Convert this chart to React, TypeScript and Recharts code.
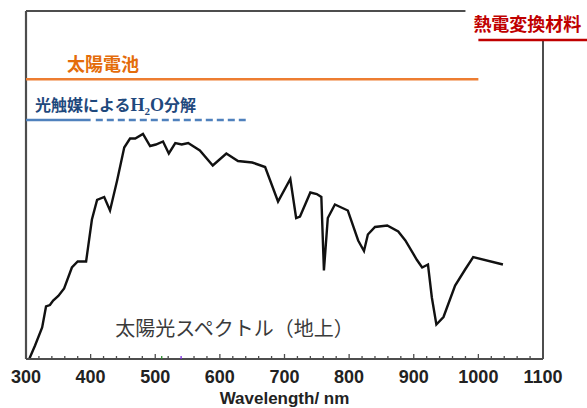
import React from "react";
import {
  LineChart,
  Line,
  XAxis,
  YAxis,
  ReferenceLine,
  ReferenceDot,
} from "recharts";

// Solar spectrum (ground level), relative irradiance
const wavelength = [
  305, 314, 325, 331, 337, 342, 350, 359, 371, 380, 393, 402, 410, 421, 430,
  441, 452, 461, 469, 481, 492, 501, 512, 521, 531, 541, 551, 569, 589, 610,
  628, 650, 670, 690, 709, 718, 724, 740, 750, 757, 761, 767, 778, 798, 814,
  823, 829, 840, 859, 876, 887, 905, 913, 922, 928, 935, 946, 964, 980, 992,
  1038,
];
const irradiance = [
  0.0, 0.09, 0.21, 0.35, 0.36, 0.39, 0.42, 0.47, 0.61, 0.65, 0.65, 0.93, 1.06,
  1.08, 0.99, 1.19, 1.41, 1.47, 1.47, 1.5, 1.42, 1.43, 1.45, 1.37, 1.44, 1.43,
  1.44, 1.39, 1.29, 1.37, 1.32, 1.31, 1.28, 1.05, 1.2, 0.94, 0.95, 1.11, 1.1,
  1.08, 0.59, 0.94, 1.03, 0.99, 0.79, 0.72, 0.83, 0.88, 0.89, 0.85, 0.79, 0.66,
  0.61, 0.63, 0.41, 0.23, 0.28, 0.49, 0.6, 0.68, 0.63,
];

// Axis
const xDomain = [300, 1100];
const yDomain = [0, 2.32];
const majorTicks = [300, 400, 500, 600, 700, 800, 900, 1000, 1100];
const minorTicks = [
  320, 340, 360, 380, 420, 440, 460, 480, 510, 520, 540, 560, 580, 620, 640,
  660, 680, 720, 740, 760, 780, 820, 840, 860, 880, 920, 940, 960, 980, 1020,
  1040, 1060, 1080,
];
const axisTitle = "Wavelength/ nm";
const curveLabel = "太陽光スペクトル（地上）";

// Application ranges (nm) and their label heights (relative units)
const solarCellRange = [300, 1000];
const solarCellLevel = 1.865;
const solarCellLabel = "太陽電池";
const photoSolidRange = [300, 400];
const photoDashedRange = [408, 640];
const photoLevel = 1.593;
const photoLabelPre = "光触媒による";
const photoLabelPost = "分解";
const thermoRange = [1000, 1170];
const thermoLevel = 2.127;
const thermoLabel = "熱電変換材料";
const frameTopEnd = 980;

const data = wavelength.map((w, i) => ({ w, v: irradiance[i] }));
const allTicks = [...majorTicks, ...minorTicks].sort((a, b) => a - b);

const FRAME = "#4d4d4d";
const CJK = "'Noto Sans CJK JP', 'Noto Sans', sans-serif";
const LATIN = "'Liberation Sans', Arial, sans-serif";

const Tick = (props: any) => {
  const { x, y, payload } = props;
  const v = payload.value;
  const major = majorTicks.includes(v);
  let color = FRAME;
  if (v === 510) color = "#2e8b2e";
  if (v === 540) color = "#7a2be0";
  return (
    <g>
      <line x1={x} x2={x} y1={y} y2={y - (major ? 5 : 3)} stroke={color} strokeWidth={1.3} />
      {major && (
        <text
          x={x}
          y={y + 24}
          textAnchor="middle"
          fontFamily={LATIN}
          fontWeight={700}
          fontSize={18}
          fill="#222"
        >
          {v}
        </text>
      )}
    </g>
  );
};

export default function App() {
  return (
    <div style={{ position: "absolute", left: 0, top: 0, background: "#fff" }}>
      <LineChart
        width={587}
        height={408}
        data={data}
        margin={{ top: 11, right: 44, bottom: 0, left: 26 }}
      >
        <XAxis
          dataKey="w"
          type="number"
          domain={xDomain}
          ticks={allTicks}
          interval={0}
          height={49}
          tickSize={0}
          tickMargin={0}
          tickLine={false}
          axisLine={{ stroke: FRAME, strokeWidth: 2 }}
          tick={<Tick />}
          label={{
            content: (p: any) => {
              const vb = p.viewBox;
              return (
                <text
                  x={vb.x + vb.width / 2}
                  y={vb.y + 45}
                  textAnchor="middle"
                  fontFamily={LATIN}
                  fontWeight={700}
                  fontSize={17}
                  fill="#222"
                >
                  {axisTitle}
                </text>
              );
            },
          }}
        />
        <YAxis type="number" domain={yDomain} hide />
        {/* frame left, top and right */}
        <ReferenceLine
          segment={[
            { x: xDomain[0], y: 0 },
            { x: xDomain[0], y: yDomain[1] },
          ]}
          stroke={FRAME}
          strokeWidth={2.2}
          ifOverflow="visible"
        />
        <ReferenceLine
          segment={[
            { x: xDomain[0], y: yDomain[1] },
            { x: frameTopEnd, y: yDomain[1] },
          ]}
          stroke={FRAME}
          strokeWidth={2}
          ifOverflow="visible"
        />
        <ReferenceLine
          segment={[
            { x: xDomain[1], y: 0 },
            { x: xDomain[1], y: thermoLevel },
          ]}
          stroke={FRAME}
          strokeWidth={2}
          ifOverflow="visible"
        />
        {/* thermoelectric */}
        <ReferenceLine
          segment={[
            { x: thermoRange[0], y: thermoLevel },
            { x: thermoRange[1], y: thermoLevel },
          ]}
          stroke="#c00000"
          strokeWidth={2.5}
          ifOverflow="visible"
          label={{
            content: (p: any) => {
              const vb = p.viewBox;
              return (
                <text
                  x={vb.x - 5}
                  y={vb.y - 9}
                  fontFamily={CJK}
                  fontWeight={700}
                  fontSize={18}
                  fill="#c00000"
                >
                  {thermoLabel}
                </text>
              );
            },
          }}
        />
        {/* solar cell */}
        <ReferenceLine
          segment={[
            { x: solarCellRange[0], y: solarCellLevel },
            { x: solarCellRange[1], y: solarCellLevel },
          ]}
          stroke="#ed7d31"
          strokeWidth={2.5}
          ifOverflow="visible"
          label={{
            content: (p: any) => {
              const vb = p.viewBox;
              return (
                <text
                  x={vb.x + 41}
                  y={vb.y - 8}
                  fontFamily={CJK}
                  fontWeight={700}
                  fontSize={18}
                  fill="#e46c0a"
                >
                  {solarCellLabel}
                </text>
              );
            },
          }}
        />
        {/* photocatalyst */}
        <ReferenceLine
          segment={[
            { x: photoSolidRange[0], y: photoLevel },
            { x: photoSolidRange[1], y: photoLevel },
          ]}
          stroke="#4f81bd"
          strokeWidth={2.5}
          ifOverflow="visible"
          label={{
            content: (p: any) => {
              const vb = p.viewBox;
              return (
                <text
                  x={vb.x + 9}
                  y={vb.y - 9}
                  fontFamily={CJK}
                  fontWeight={700}
                  fontSize={16}
                  fill="#1f497d"
                >
                  {photoLabelPre}
                  <tspan fontFamily="'Liberation Serif', serif" fontSize={18}>H</tspan>
                  <tspan fontFamily="'Liberation Serif', serif" fontSize={11} dy={4}>2</tspan>
                  <tspan fontFamily="'Liberation Serif', serif" fontSize={18} dy={-4}>O</tspan>
                  {photoLabelPost}
                </text>
              );
            },
          }}
        />
        <ReferenceLine
          segment={[
            { x: photoDashedRange[0], y: photoLevel },
            { x: photoDashedRange[1], y: photoLevel },
          ]}
          stroke="#4f81bd"
          strokeWidth={2.5}
          strokeDasharray="7 4"
          ifOverflow="visible"
        />
        <ReferenceDot
          x={438}
          y={0.2}
          r={0}
          fill="none"
          stroke="none"
          ifOverflow="visible"
          label={{
            content: (p: any) => {
              const vb = p.viewBox;
              return (
                <text
                  x={vb.x + (vb.width || 0) / 2}
                  y={vb.y + (vb.height || 0) / 2 + 7}
                  fontFamily={CJK}
                  fontSize={20}
                  fill="#3a3a3a"
                >
                  {curveLabel}
                </text>
              );
            },
          }}
        />
        <Line
          type="linear"
          dataKey="v"
          stroke="#111"
          strokeWidth={2.4}
          dot={false}
          isAnimationActive={false}
        />
      </LineChart>
    </div>
  );
}
